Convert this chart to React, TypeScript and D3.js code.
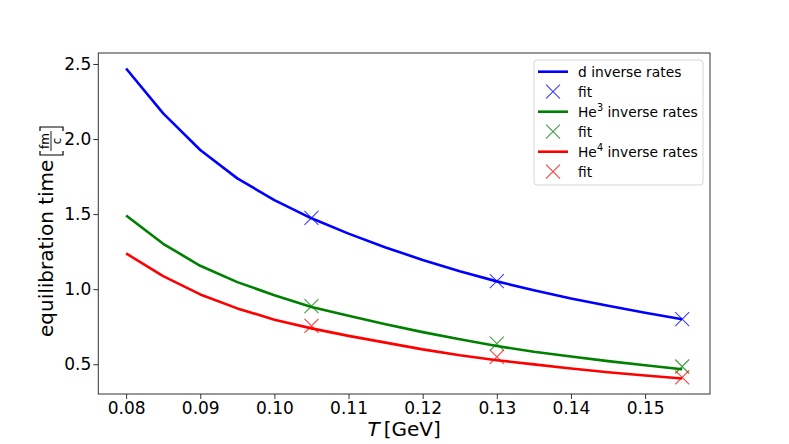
import * as d3 from "d3";
import { useRef, useEffect } from "react";

// temperatures of the rate curves [GeV]
const temps = [0.08, 0.085, 0.09, 0.095, 0.1, 0.105, 0.11, 0.115, 0.12, 0.125, 0.13, 0.135, 0.14, 0.145, 0.15, 0.155];
const dRates = [2.47, 2.171, 1.927, 1.738, 1.593, 1.472, 1.37, 1.278, 1.195, 1.12, 1.052, 0.993, 0.938, 0.889, 0.843, 0.8];
const he3Rates = [1.491, 1.302, 1.156, 1.047, 0.96, 0.882, 0.823, 0.767, 0.714, 0.666, 0.621, 0.583, 0.551, 0.521, 0.493, 0.467];
const he4Rates = [1.238, 1.087, 0.965, 0.872, 0.797, 0.739, 0.689, 0.644, 0.599, 0.56, 0.527, 0.499, 0.472, 0.447, 0.425, 0.405];

// fit points
const fitTemps = [0.105, 0.13, 0.155];
const dFit = [1.475, 1.053, 0.8];
const he3Fit = [0.887, 0.638, 0.485];
const he4Fit = [0.755, 0.549, 0.413];

const xTicks = [0.08, 0.09, 0.1, 0.11, 0.12, 0.13, 0.14, 0.15];
const yTicks = [0.5, 1.0, 1.5, 2.0, 2.5];

const series = [
  { label: "d", sup: "", color: "#0000ff", rates: dRates, fit: dFit },
  { label: "He", sup: "3", color: "#008000", rates: he3Rates, fit: he3Fit },
  { label: "He", sup: "4", color: "#ff0000", rates: he4Rates, fit: he4Fit },
];

const font = "DejaVu Sans, sans-serif";

const pad = (ext: [number, number]) => {
  const d = ext[1] - ext[0];
  return [ext[0] - 0.05 * d, ext[1] + 0.05 * d];
};

export default function App() {
  const ref = useRef<HTMLDivElement | null>(null);
  const width = 789;
  const height = 444;
  const left = 98.3, right = 710, top = 53, bottom = 394;

  useEffect(() => {
    d3.select(ref.current).selectAll("svg").remove();

    const allY = [...dRates, ...he3Rates, ...he4Rates, ...dFit, ...he3Fit, ...he4Fit];
    const x = d3.scaleLinear().domain(pad(d3.extent(temps) as [number, number])).range([left, right]);
    const y = d3.scaleLinear().domain(pad(d3.extent(allY) as [number, number])).range([bottom, top]);

    const svg = d3.create("svg")
      .attr("width", width)
      .attr("height", height)
      .attr("viewBox", [0, 0, width, height])
      .style("position", "absolute")
      .style("left", "0px")
      .style("top", "0px")
      .style("background", "white");

    const plot = svg.append("g");

    const line = d3.line<number>()
      .x((_, i) => x(temps[i]))
      .y(d => y(d));

    const cross = "M-7,-7L7,7M-7,7L7,-7";

    series.forEach(s => {
      plot.append("path")
        .attr("d", line(s.rates))
        .attr("fill", "none")
        .attr("stroke", s.color)
        .attr("stroke-width", 2.6)
        .attr("stroke-linejoin", "round");

      plot.selectAll(null)
        .data(s.fit)
        .join("path")
        .attr("transform", (d, i) => `translate(${x(fitTemps[i])},${y(d)})`)
        .attr("d", cross)
        .attr("stroke", s.color)
        .attr("stroke-width", 1.1)
        .attr("stroke-opacity", 0.75)
        .attr("fill", "none");
    });

    // frame
    svg.append("rect")
      .attr("x", left).attr("y", top)
      .attr("width", right - left).attr("height", bottom - top)
      .attr("fill", "none")
      .attr("stroke", "#333")
      .attr("stroke-width", 1);

    const xAxis = svg.append("g")
      .attr("transform", `translate(0,${bottom})`)
      .call(d3.axisBottom(x).tickValues(xTicks).tickFormat(d3.format(".2f")).tickSize(5).tickPadding(3));
    const yAxis = svg.append("g")
      .attr("transform", `translate(${left},0)`)
      .call(d3.axisLeft(y).tickValues(yTicks).tickFormat(d3.format(".1f")).tickSize(5).tickPadding(2));

    [xAxis, yAxis].forEach(g => {
      g.select(".domain").remove();
      g.selectAll("line").attr("stroke", "#333");
      g.selectAll("text")
        .attr("fill", "#000")
        .style("font-family", font)
        .style("font-size", "17px");
    });

    // x label
    const xl = svg.append("text")
      .attr("x", (left + right) / 2)
      .attr("y", 436)
      .attr("text-anchor", "middle")
      .style("font-family", font)
      .style("font-size", "20px");
    xl.append("tspan").attr("font-style", "italic").text("T");
    xl.append("tspan").attr("dx", 4).text("[GeV]");

    // y label, rotated
    const yl = svg.append("g").attr("transform", "translate(53,337) rotate(-90)");
    yl.append("text")
      .attr("x", 0).attr("y", 0)
      .style("font-family", font)
      .style("font-size", "20px")
      .text("equilibration time");
    const bx = 182;
    const bw = 28;
    yl.append("path")
      .attr("d", `M${bx + 4},-13L${bx},-13L${bx},10L${bx + 4},10M${bx + bw - 4},-13L${bx + bw},-13L${bx + bw},10L${bx + bw - 4},10`)
      .attr("fill", "none")
      .attr("stroke", "#000")
      .attr("stroke-width", 1.2);
    yl.append("line")
      .attr("x1", bx + 4).attr("x2", bx + bw - 4)
      .attr("y1", -2).attr("y2", -2)
      .attr("stroke", "#000").attr("stroke-width", 0.9);
    yl.append("text")
      .attr("x", bx + bw / 2).attr("y", -4)
      .attr("text-anchor", "middle")
      .style("font-family", font).style("font-size", "12px")
      .text("fm");
    yl.append("text")
      .attr("x", bx + bw / 2).attr("y", 8)
      .attr("text-anchor", "middle")
      .style("font-family", font).style("font-size", "12px")
      .text("c");

    // legend
    const lg = svg.append("g");
    lg.append("rect")
      .attr("x", 534).attr("y", 60)
      .attr("width", 169).attr("height", 125)
      .attr("rx", 3)
      .attr("fill", "white").attr("fill-opacity", 0.8)
      .attr("stroke", "#d6d6d6");

    series.forEach((s, i) => {
      const yLine = 71.7 + i * 40;
      const yFit = yLine + 20;
      lg.append("line")
        .attr("x1", 538).attr("x2", 568)
        .attr("y1", yLine).attr("y2", yLine)
        .attr("stroke", s.color).attr("stroke-width", 2.6);
      const t = lg.append("text")
        .attr("x", 578).attr("y", yLine + 5)
        .style("font-family", font).style("font-size", "13.8px");
      t.append("tspan").text(s.label);
      if (s.sup) {
        t.append("tspan").attr("dy", -6).style("font-size", "9.7px").text(s.sup);
        t.append("tspan").attr("dy", 6).text(" inverse rates");
      } else {
        t.append("tspan").text(" inverse rates");
      }
      lg.append("path")
        .attr("transform", `translate(553,${yFit})`)
        .attr("d", cross)
        .attr("stroke", s.color)
        .attr("stroke-width", 1.1)
        .attr("stroke-opacity", 0.75)
        .attr("fill", "none");
      lg.append("text")
        .attr("x", 578).attr("y", yFit + 5)
        .style("font-family", font).style("font-size", "13.8px")
        .text("fit");
    });

    const node = svg.node();
    if (ref.current && node) ref.current.appendChild(node);
  }, []);

  return <div ref={ref}></div>;
}
